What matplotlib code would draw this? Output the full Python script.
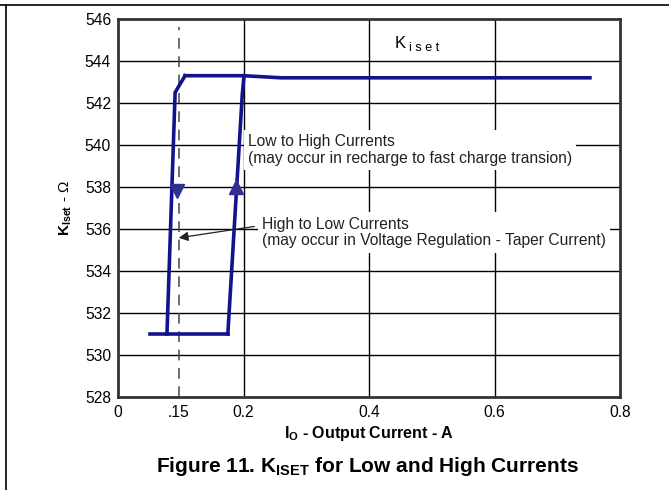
import matplotlib

matplotlib.use("Agg")
import matplotlib.pyplot as plt
from matplotlib.lines import Line2D

plt.rcParams["font.family"] = ["Liberation Sans", "DejaVu Sans"]
plt.rcParams["mathtext.fontset"] = "custom"
plt.rcParams["mathtext.rm"] = "Liberation Sans"
plt.rcParams["mathtext.it"] = "Liberation Sans"
plt.rcParams["mathtext.bf"] = "Liberation Sans:bold"

# Hysteresis loop pieces (x in A, y in ohm)
left_x = [0.078, 0.091, 0.1068]      # high -> low leg
left_y = [531.0, 542.5, 543.3]
right_x = [0.175, 0.198, 0.2008]     # low -> high leg
right_y = [531.0, 542.4, 543.3]
top_x = [0.1068, 0.2008, 0.26, 0.752]
top_y = [543.3, 543.3, 543.2, 543.2]
bottom_x = [0.051, 0.175]
bottom_y = [531.0, 531.0]

arrow_down = (0.094, 537.8)
arrow_up = (0.188, 538.0)

marker_x = 0.097  # position of the ".15" dashed marker
xticks = [0.0, marker_x, 0.2, 0.4, 0.6, 0.8]
xtick_labels = ["0", ".15", "0.2", "0.4", "0.6", "0.8"]
yticks = [528, 530, 532, 534, 536, 538, 540, 542, 544, 546]
vgrid = [0.2, 0.4, 0.6]
hgrid = [530, 532, 534, 536, 538, 540, 542, 544]

navy = "#12128c"

fig = plt.figure(figsize=(6.69, 4.90), dpi=100)
ax = fig.add_axes([0.1764, 0.1898, 0.7504, 0.7714])
ax.set_xlim(0, 0.8)
ax.set_ylim(528, 546)

for gx in vgrid:
    ax.axvline(gx, color="black", lw=1.0, zorder=1)
for gy in hgrid:
    ax.axhline(gy, color="black", lw=1.0, zorder=1)
ax.plot([marker_x, marker_x], [528, 545.6], color="#444444", lw=1.1,
        dashes=(7, 5), zorder=1)

for xs, ys in [(bottom_x, bottom_y), (left_x, left_y),
               (right_x, right_y), (top_x, top_y)]:
    ax.plot(xs, ys, color=navy, lw=2.6, solid_joinstyle="miter", zorder=5)
ax.plot(*arrow_down, marker="v", ms=10, color="#2e3192", zorder=6)
ax.plot(*arrow_up, marker="^", ms=10, color="#2e3192", zorder=6)

box = dict(facecolor="white", edgecolor="none", pad=3)
ax.text(0.207, 539.78, "Low to High Currents\n(may occur in recharge to fast charge transion)",
        fontsize=11.25, ha="left", va="center", linespacing=1.15, color="#222222",
        bbox=box, zorder=3)
ax.text(0.230, 535.83, "High to Low Currents\n(may occur in Voltage Regulation - Taper Current)",
        fontsize=11.25, ha="left", va="center", linespacing=1.15, color="#222222",
        bbox=box, zorder=3)
ax.annotate("", xy=(0.0924, 535.56), xytext=(0.2216, 536.14),
            arrowprops=dict(arrowstyle="-|>", color="#222222", lw=0.9,
                            mutation_scale=14), zorder=4)

ax.text(0.441, 544.6, "K", fontsize=12, ha="left", va="baseline")
ax.text(0.463, 544.48, "i s e t", fontsize=9, ha="left", va="baseline")

ax.set_xticks(xticks)
ax.set_xticklabels(xtick_labels)
ax.set_yticks(yticks)
ax.tick_params(length=0, labelsize=11.25, pad=5)
ax.tick_params(axis="x", pad=6)
for sp in ax.spines.values():
    sp.set_linewidth(2)
    sp.set_color("#333333")

ax.set_xlabel(r"I$_{\mathbf{O}}$ - Output Current - A", fontsize=11.5,
              fontweight="bold", labelpad=3)
ax.set_ylabel(r"$\mathbf{K_{Iset}}$ - Ω", fontsize=11, labelpad=8)
fig.text(0.549, 0.047, r"Figure 11. K$_{\mathbf{ISET}}$ for Low and High Currents",
         fontsize=15, fontweight="bold", ha="center", va="center")

# page frame lines (top and left)
fig.add_artist(Line2D([0, 1], [0.99, 0.99], color="black", lw=1.2,
                      transform=fig.transFigure))
fig.add_artist(Line2D([0.009, 0.009], [0, 0.99], color="black", lw=1.2,
                      transform=fig.transFigure))

fig.savefig("out.png", dpi=100)
